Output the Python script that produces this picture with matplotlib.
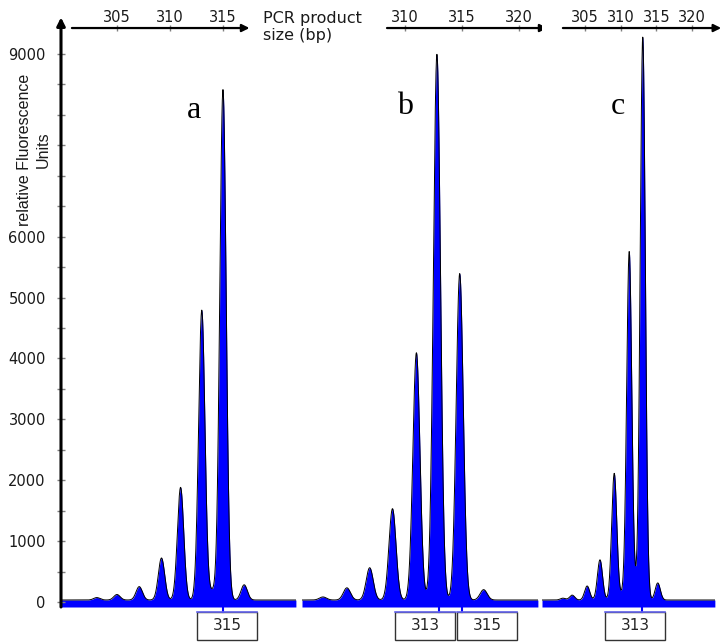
import numpy as np
import matplotlib.pyplot as plt
from matplotlib.lines import Line2D
from matplotlib.patches import Rectangle

# peak sizes (bp) and heights (relative fluorescence units) per sample
a_size = [303.1, 305.0, 307.1, 309.2, 311.0, 313.0, 314.0, 315.0, 317.0]
a_rfu = [40, 90, 220, 690, 1850, 4760, 140, 8380, 250]

b_size = [302.8, 304.9, 306.9, 308.9, 311.0, 312.8, 314.8, 316.9]
b_rfu = [50, 200, 530, 1500, 4060, 8960, 5360, 170]

c_size = [301.9, 303.2, 305.3, 307.1, 309.1, 310.2, 311.2, 312.2, 313.1, 315.2]
c_rfu = [30, 80, 230, 660, 2080, 70, 5720, 120, 9240, 280]

# called alleles shown in the boxes under each trace
a_calls = [315]
b_calls = [313, 315]
c_calls = [313]

BASE = 33
W, H = 721, 642
YMIN, YMAX = -82, 9524
AXIS_Y = 9425
BLUE = '#0000ff'

fig = plt.figure(figsize=(W / 100, H / 100), dpi=100)


def px_axes(x0, x1):
    ax = fig.add_axes([x0 / W, (H - 607) / H, (x1 - x0) / W, 585 / H])
    for s in ax.spines.values():
        s.set_visible(False)
    ax.set_ylim(YMIN, YMAX)
    ax.set_xticks([])
    ax.set_yticks([])
    return ax


def draw_trace(ax, size, rfu, width):
    lo, hi = ax.get_xlim()
    x = np.arange(lo, hi, 0.02)
    y = np.full_like(x, BASE, dtype=float)
    for s, h in zip(size, rfu):
        y += h * np.exp(-0.5 * ((x - s) / width) ** 2)
    ax.fill_between(x, YMIN, y, color=BLUE, lw=0)
    ax.plot(x, y, color='black', lw=0.7)


def size_axis(ax, start, stop, ticks):
    ax.annotate('', xy=(stop, AXIS_Y), xytext=(start, AXIS_Y),
                arrowprops=dict(arrowstyle='-|>', lw=1.6, color='black',
                                mutation_scale=11, shrinkA=0, shrinkB=0),
                annotation_clip=False)
    ax.plot(ticks, [AXIS_Y] * len(ticks), ls='none', marker='|', ms=5,
            mew=1, color='0.5', clip_on=False)
    for t in ticks:
        ax.annotate(str(t), xy=(t, AXIS_Y), xytext=(0, 11),
                    textcoords='offset pixels', ha='center', va='center',
                    fontsize=10.5, family='DejaVu Sans', color='0.1',
                    annotation_clip=False)


def allele_box(ax, bp, shift):
    x = ax.transData.transform((bp, 0))[0]
    fig.add_artist(Line2D([x / W, x / W], [(H - 607) / H, (H - 612) / H],
                          color=BLUE, lw=1.5, transform=fig.transFigure))
    cx = x + shift
    fig.add_artist(Rectangle(((cx - 30) / W, (H - 640) / H), 60 / W, 28 / H,
                             fill=False, ec='0.2', lw=1,
                             transform=fig.transFigure))
    fig.add_artist(Line2D([(cx - 30) / W, (cx + 30) / W],
                          [(H - 612) / H, (H - 612) / H],
                          color='#6666ee', lw=1.2, transform=fig.transFigure))
    fig.text(cx / W, (H - 626) / H, str(bp), ha='center', va='center',
             fontsize=11, family='DejaVu Sans', color='0.15')


ax_a = px_axes(61, 296)
ax_a.set_xlim(299.72, 321.89)
ax_b = px_axes(302, 538)
ax_b.set_xlim(300.96, 321.67)
ax_c = px_axes(542, 715)
ax_c.set_xlim(298.97, 323.23)

draw_trace(ax_a, a_size, a_rfu, 0.30)
draw_trace(ax_b, b_size, b_rfu, 0.31)
draw_trace(ax_c, c_size, c_rfu, 0.36)

size_axis(ax_a, 300.75, 317.5, [305, 310, 315])
size_axis(ax_b, 308.42, 322.5, [310, 315, 320])
size_axis(ax_c, 301.9, 324.1, [305, 310, 315, 320])

# fluorescence axis on the first trace
yt = list(range(0, 10000, 1000))
ax_a.set_yticks(yt)
ax_a.set_yticklabels(['' if v in (7000, 8000) else str(v) for v in yt],
                     family='DejaVu Sans', fontsize=10.5, color='0.1')
ax_a.set_yticks(range(500, 9500, 1000), minor=True)
ax_a.tick_params(axis='y', which='both', direction='inout', length=6,
                 width=1, color='0.5', pad=8)
lo = ax_a.get_xlim()[0]
ax_a.annotate('', xy=(lo, 9600), xytext=(lo, YMIN),
              arrowprops=dict(arrowstyle='-|>', lw=2.2, color='black',
                              mutation_scale=12, shrinkA=0, shrinkB=0),
              annotation_clip=False)

fig.text(34 / W, (H - 150) / H, 'relative Fluorescence\nUnits', rotation=90,
         ha='center', va='center', fontsize=11.5, family='Liberation Sans',
         linespacing=1.35, color='0.1')
fig.text(263 / W, (H - 27) / H, 'PCR product\nsize (bp)', ha='left',
         va='center', fontsize=11.5, family='DejaVu Sans', linespacing=1.15,
         color='0.1')

for ax, letter, xp, yp in [(ax_a, 'a', 194, 111), (ax_b, 'b', 405, 107),
                           (ax_c, 'c', 618, 107)]:
    fig.text(xp / W, (H - yp) / H, letter, ha='center', va='center',
             fontsize=23, family='Liberation Serif')

for bp in a_calls:
    allele_box(ax_a, bp, 4)
for bp, shift in zip(b_calls, [-14, 25]):
    allele_box(ax_b, bp, shift)
for bp in c_calls:
    allele_box(ax_c, bp, -7)

fig.savefig('out.png', dpi=100)
